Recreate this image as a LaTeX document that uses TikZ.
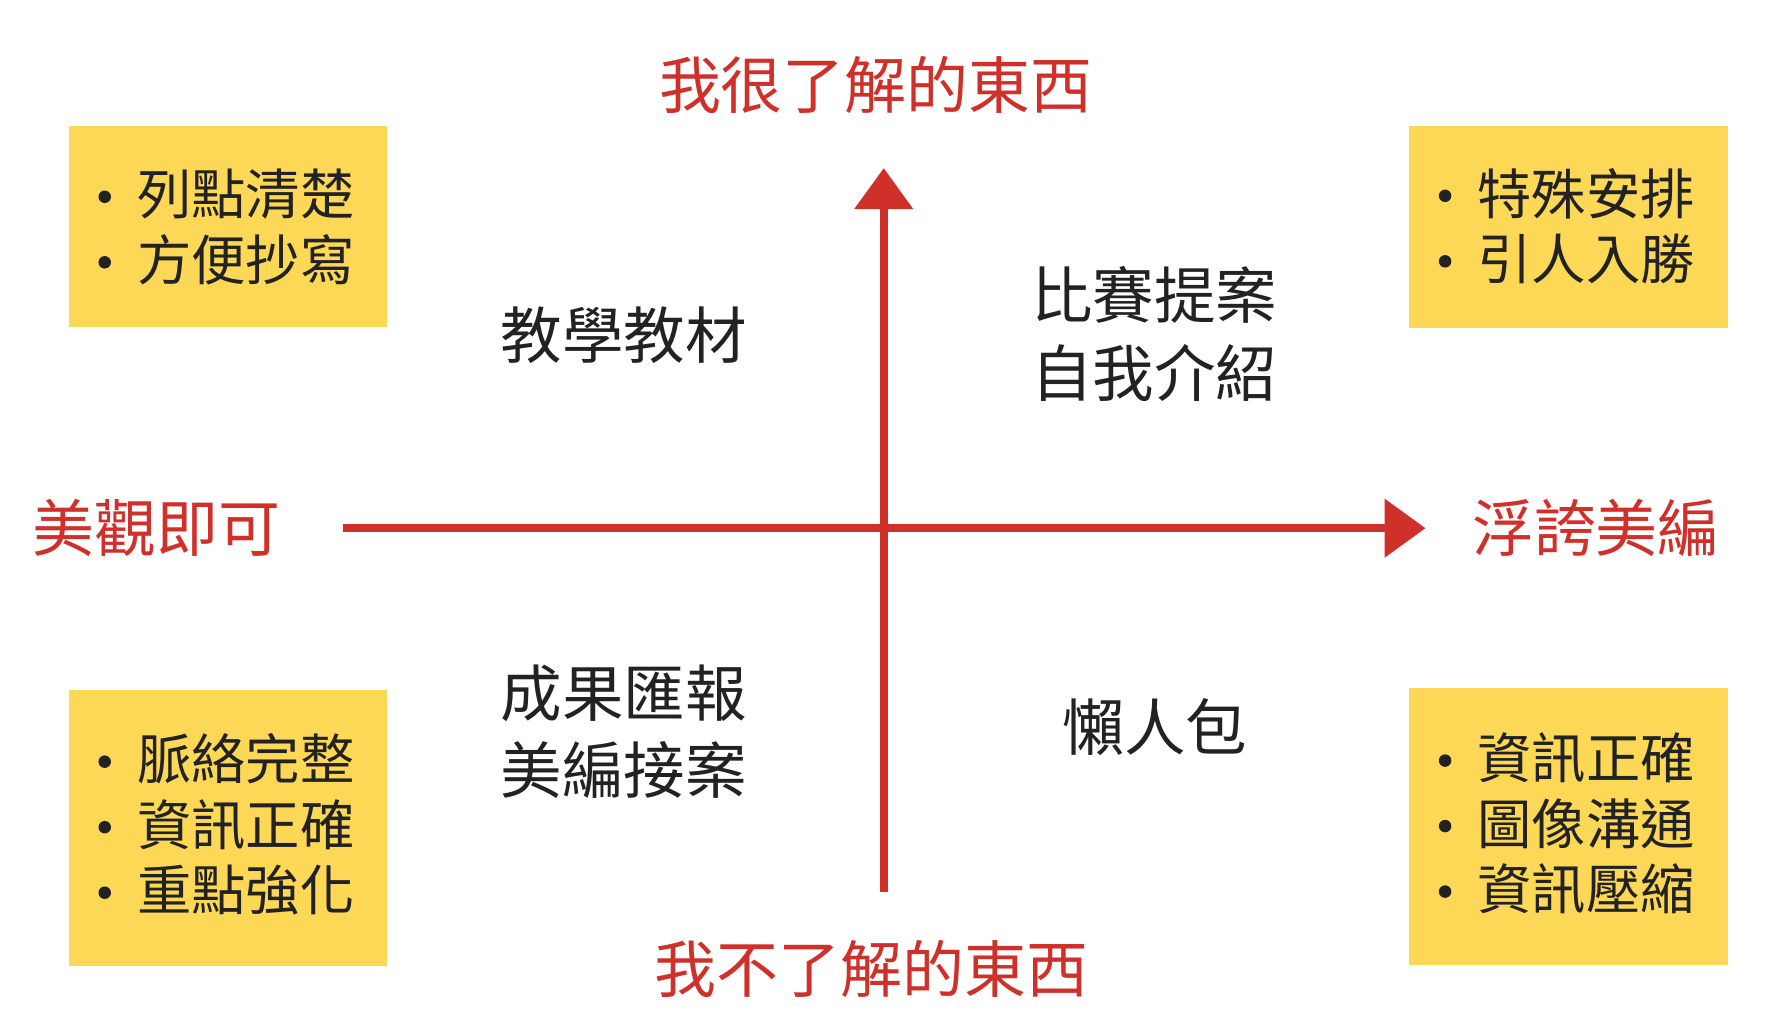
\documentclass[tikz,border=0pt]{standalone}
\usepackage{fontspec}
\setmainfont{Noto Sans CJK TC}
\newfontfamily\dvfont{DejaVu Sans}
\usetikzlibrary{arrows.meta}
\definecolor{axred}{HTML}{D0302A}
\definecolor{boxy}{HTML}{FCD856}
\definecolor{txt}{HTML}{222222}
\newcommand{\bul}{\makebox[0.34cm][l]{\tikz[baseline=-0.16cm]\fill (0,0) circle (0.055cm);}}
\tikzset{
  axis/.style={draw=axred,line width=2.1pt,-{Triangle[length=0.36cm,width=0.5cm]}},
  axlabel/.style={text=axred,font=\fontsize{15.5}{18}\selectfont},
  quad/.style={text=txt,font=\fontsize{15.4}{19.3}\selectfont,align=center},
  ybox/.style={fill=boxy,inner sep=0pt},
  blist/.style={text=txt,font=\fontsize{13.6}{16.4}\selectfont,anchor=west,align=left,inner sep=0pt}
}
\begin{document}
\begin{tikzpicture}[x=0.01cm,y=-0.01cm]
\useasboundingbox (0,0) rectangle (1560,910);
\fill[white] (0,0) rectangle (1560,910);
% boxes
\node[ybox,minimum width=2.8cm,minimum height=1.77cm,anchor=north west] (tl) at (60,110) {};
\node[ybox,minimum width=2.8cm,minimum height=1.78cm,anchor=north west] (tr) at (1240,110) {};
\node[ybox,minimum width=2.8cm,minimum height=2.43cm,anchor=north west] (bl) at (60,607) {};
\node[ybox,minimum width=2.8cm,minimum height=2.44cm,anchor=north west] (br) at (1240,605) {};
\node[blist] (tlt) at (86,200) {\bul 列點清楚\\\bul 方便抄寫};
\node[blist] (trt) at (1266,199) {\bul 特殊安排\\\bul 引人入勝};
\node[blist] (blt) at (86,726) {\bul 脈絡完整\\\bul 資訊正確\\\bul 重點強化};
\node[blist] (brt) at (1266,725) {\bul 資訊正確\\\bul 圖像溝通\\\bul 資訊壓縮};
% axes
\coordinate (vb) at (778,785);
\coordinate (vt) at (778,148);
\coordinate (hl) at (302,465);
\coordinate (hr) at (1255,465);
\draw[axis] (vb) -- (vt);
\draw[axis] (hl) -- (hr);
% axis labels
\node[axlabel] (top) at (771,75) {我很了解的東西};
\node[axlabel] (bot) at (767,853) {我不了解的東西};
\node[axlabel] (lft) at (138,465) {美觀即可};
\node[axlabel] (rgt) at (1405,465) {浮誇美編};
% quadrant texts
\node[quad] (q1) at (549,295) {教學教材};
\node[quad] (q2) at (1016,294) {比賽提案\\自我介紹};
\node[quad] (q3) at (549,644) {成果匯報\\美編接案};
\node[quad] (q4) at (1017,640) {懶人包};
\end{tikzpicture}
\end{document}
